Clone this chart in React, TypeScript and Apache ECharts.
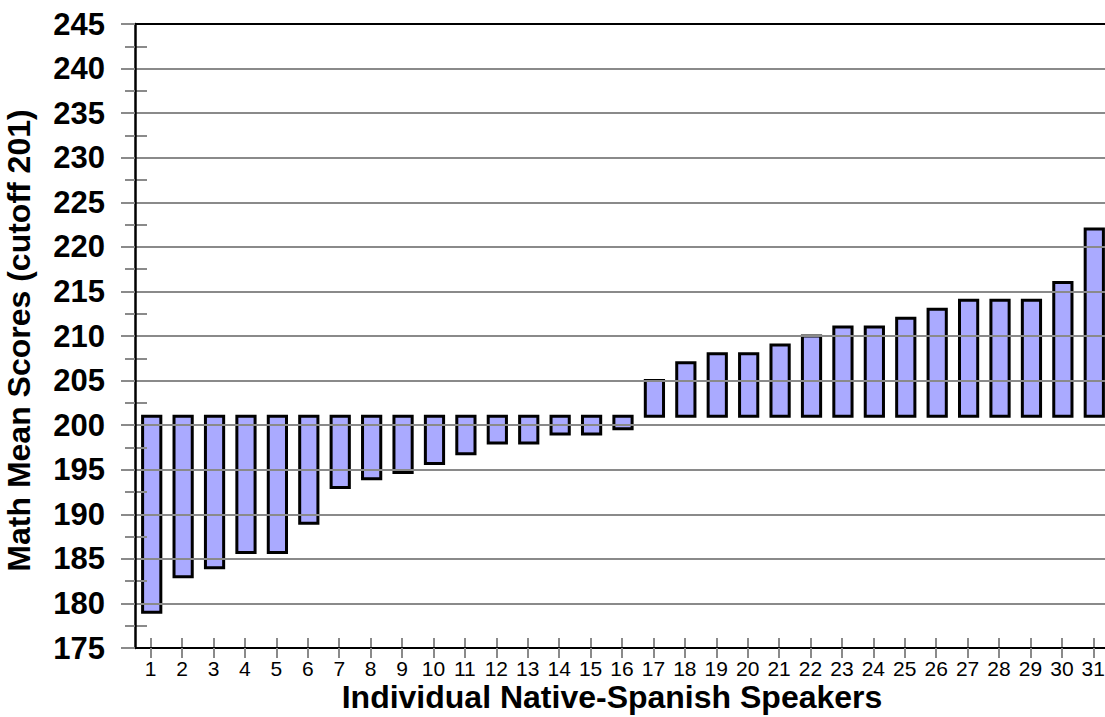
import React, { useEffect, useRef } from "react";
import * as echarts from "echarts";

const categories = ["1","2","3","4","5","6","7","8","9","10","11","12","13","14","15","16","17","18","19","20","21","22","23","24","25","26","27","28","29","30","31"];
const scores = [179, 183, 184, 185.7, 185.7, 189, 193, 194, 194.7, 195.7, 196.8, 198, 198, 199, 199, 199.6, 205, 207, 208, 208, 209, 210, 211, 211, 212, 213, 214, 214, 214, 216, 222];
const cutoff = 201;
const yMin = 175;
const yMax = 245;
const yStep = 5;

const FONT = "Arial, 'Liberation Sans', sans-serif";

export default function App() {
  const ref = useRef<HTMLDivElement>(null);
  useEffect(() => {
    if (!ref.current) return;
    const chart = echarts.init(ref.current, undefined, { renderer: "svg" });
    const tickStyle = { color: "#8a8a8a", width: 2 };
    chart.setOption({
      animation: false,
      backgroundColor: "#ffffff",
      grid: { left: 135, right: -4, top: 24, bottom: 69, containLabel: false, outerBoundsMode: "none" },
      xAxis: [
        {
          type: "category",
          data: categories,
          position: "bottom",
          axisLine: { show: true, lineStyle: { color: "#000", width: 2 } },
          axisTick: { show: true, alignWithLabel: true, length: 10, lineStyle: tickStyle },
          axisLabel: { color: "#000", fontSize: 21, fontFamily: FONT, margin: 10 },
          name: "Individual Native-Spanish Speakers",
          nameLocation: "middle",
          nameGap: 33,
          nameMoveOverlap: false,
          nameTextStyle: { color: "#000", fontSize: 32, fontWeight: "bold", fontFamily: FONT, padding: [0, 20, 0, 0] },
          z: 5,
        },
        {
          type: "category",
          data: categories,
          position: "bottom",
          axisLine: { show: false },
          axisTick: { show: true, inside: true, alignWithLabel: true, length: 10, lineStyle: tickStyle },
          axisLabel: { show: false },
          z: 4,
        },
        {
          type: "category",
          data: categories,
          position: "top",
          axisLine: { show: true, lineStyle: { color: "#000", width: 2 } },
          axisTick: { show: false },
          axisLabel: { show: false },
          z: 5,
        },
      ],
      yAxis: [
        {
          type: "value",
          min: yMin,
          max: yMax,
          interval: yStep,
          axisLine: { show: true, lineStyle: { color: "#000", width: 2.5 } },
          axisTick: { show: true, length: 14, lineStyle: tickStyle },
          minorTick: { show: true, splitNumber: 2, length: 10, lineStyle: tickStyle },
          splitLine: { show: true, lineStyle: { color: "#8a8a8a", width: 2 } },
          axisLabel: { color: "#000", fontSize: 31, fontWeight: "bold", fontFamily: FONT, margin: 30 },
          name: "Math Mean Scores (cutoff 201)",
          nameLocation: "middle",
          nameGap: 100,
          nameMoveOverlap: false,
          nameRotate: 90,
          nameTextStyle: { color: "#000", fontSize: 32, fontWeight: "bold", fontFamily: FONT, padding: [0, 9, 0, 0] },
          z: 5,
        },
        {
          type: "value",
          min: yMin,
          max: yMax,
          interval: yStep,
          position: "left",
          axisLine: { show: false },
          axisTick: { show: true, inside: true, length: 15, lineStyle: tickStyle },
          minorTick: { show: true, splitNumber: 2, length: 12, lineStyle: tickStyle },
          splitLine: { show: false },
          axisLabel: { show: false },
          z: 4,
        },
      ],
      series: [
        {
          type: "custom",
          xAxisIndex: 0,
          yAxisIndex: 0,
          data: scores.map((v, i) => [i, v]),
          encode: { x: 0, y: 1 },
          z: 3,
          renderItem: (params: any, api: any) => {
            const idx = api.value(0);
            const v = api.value(1);
            const pBase = api.coord([idx, cutoff]);
            const pVal = api.coord([idx, v]);
            const band = api.size([1, 0])[0];
            const w = band * 0.58;
            return {
              type: "rect",
              shape: {
                x: pBase[0] - w / 2 + 1,
                y: Math.min(pBase[1], pVal[1]),
                width: w,
                height: Math.abs(pBase[1] - pVal[1]),
              },
              style: { fill: "#aaaaff", stroke: "#000", lineWidth: 3 },
            };
          },
        },
      ],
    });
    return () => chart.dispose();
  }, []);
  return <div ref={ref} style={{ position: "fixed", left: 0, top: 0, width: 1105, height: 717 }} />;
}
